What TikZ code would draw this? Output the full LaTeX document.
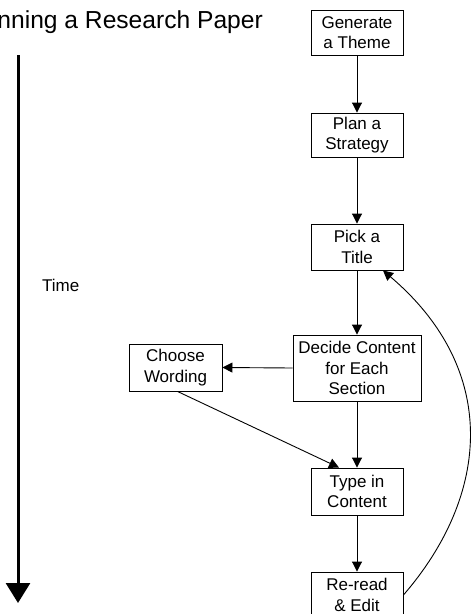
\documentclass[tikz,border=0pt]{standalone}
\usepackage{fontspec}
\setmainfont{Liberation Sans}
\usetikzlibrary{arrows.meta}
\begin{document}
\begin{tikzpicture}[x=1pt,y=-1pt,
  stepbox/.style={draw,line width=0.9pt,inner sep=0pt,align=center,
    font=\fontsize{17}{20.5}\selectfont},
  flow/.style={line width=0.9pt,-{Triangle[width=10pt,length=10pt]}},
  label/.style={inner sep=0pt,font=\fontsize{17}{20.5}\selectfont}]
\useasboundingbox (0,0) rectangle (471,614);

% heading, its first letters fall off the left edge
\node[inner sep=0pt,anchor=base east,font=\fontsize{24.6}{28}\selectfont] (title) at (263,28) {Planning a Research Paper};

% time axis
\coordinate (t0) at (18,55);
\coordinate (t1) at (18,603);
\draw[line width=3pt,-{Triangle[width=24pt,length=20pt]}] (t0) -- (t1);
\node[label,anchor=base west] (time) at (42,291) {Time};

% process steps
\node[stepbox,minimum width=92pt,minimum height=45pt] (gen) at (357,32.5) {Generate\\a Theme};
\node[stepbox,minimum width=92pt,minimum height=44pt] (plan) at (357,135) {Plan a\\Strategy};
\node[stepbox,minimum width=92pt,minimum height=46pt] (pick) at (357,247) {Pick a\\Title};
\node[stepbox,minimum width=128pt,minimum height=66pt] (decide) at (357,368) {Decide Content\\for Each\\Section};
\node[stepbox,minimum width=93pt,minimum height=47pt] (choose) at (175.5,367.5) {Choose\\Wording};
\node[stepbox,minimum width=92pt,minimum height=47pt] (type) at (357,491.5) {Type in\\Content};
\node[stepbox,minimum width=92pt,minimum height=46pt] (reread) at (357,595) {Re-read\\\& Edit};

% connectors
\draw[flow] (gen) -- (plan);
\draw[flow] (plan) -- (pick);
\draw[flow] (pick) -- (decide);
\draw[flow] (decide) -- (type);
\draw[flow] (type) -- (reread);
\draw[flow] (decide.west) -- (choose.east);
\draw[flow] ([xshift=2pt]choose.south) -- ([xshift=-18pt]type.north);
\draw[flow] (reread.east) .. controls (490,495) and (500,370) .. ([xshift=26pt]pick.south);
\end{tikzpicture}
\end{document}
